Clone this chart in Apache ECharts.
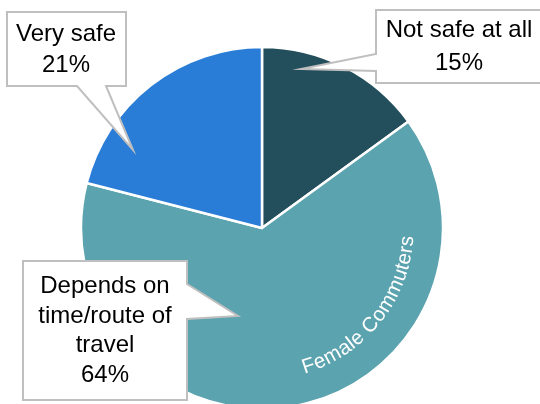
<!DOCTYPE html>
<html><head><meta charset="utf-8">
<script src="https://cdn.jsdelivr.net/npm/echarts@6/dist/echarts.min.js"></script>
<style>html,body{margin:0;padding:0;background:#fff}#c{width:540px;height:404px}</style>
</head><body><div id="c"></div>
<script>
// ---- data ----
const categories = ['Not safe at all', 'Depends on time/route of travel', 'Very safe'];
const labelTexts = ['Not safe at all', 'Depends on\ntime/route of\ntravel', 'Very safe'];
const values = [15, 64, 21];
const seriesName = 'Female Commuters';

// ---- styles / layout ----
const colors = ['#234E5C', '#5BA3AE', '#2A7DD6'];
const CX = 262, CY = 228, R = 181;
const FONT = 'Liberation Sans';
const callouts = [
  { pts: [[376,10],[541,10],[541,83],[376,83],[376,71],[301,69],[376,54]], tx: 459, ty: 47, lh: 33 },
  { pts: [[23,261],[187,261],[187,284],[238,316],[187,319],[187,400],[23,400]], tx: 105, ty: 331, lh: 29.5 },
  { pts: [[7,12],[126,12],[126,86],[106,86],[133,150],[77,86],[7,86]], tx: 66, ty: 50, lh: 31 }
];

const total = values.reduce((a, b) => a + b, 0);
const graphics = [];
callouts.forEach((c, i) => {
  graphics.push({
    type: 'polygon', z: 100,
    shape: { points: c.pts },
    style: { fill: '#fff', stroke: '#BFBFBF', lineWidth: 2 }
  });
  graphics.push({
    type: 'text', z: 101, x: c.tx, y: c.ty,
    style: {
      text: labelTexts[i] + '\n' + Math.round(values[i] / total * 100) + '%',
      fill: '#000', font: '24px "' + FONT + '"',
      align: 'center', verticalAlign: 'middle', lineHeight: c.lh
    }
  });
});

// curved series name inside the large slice
(function () {
  const fs = 20.5, rMid = 146, midDeg = 38.5;
  const ctx = document.createElement('canvas').getContext('2d');
  ctx.font = fs + 'px "' + FONT + '"';
  const chars = seriesName.split('');
  const widths = chars.map(ch => ctx.measureText(ch).width);
  const totalW = widths.reduce((a, b) => a + b, 0);
  const startRad = midDeg * Math.PI / 180 + (totalW / 2) / rMid;
  let cum = 0;
  chars.forEach((ch, k) => {
    const th = startRad - (cum + widths[k] / 2) / rMid;
    cum += widths[k];
    graphics.push({
      type: 'text', z: 50,
      x: CX + rMid * Math.cos(th), y: CY + rMid * Math.sin(th),
      rotation: Math.PI / 2 - th,
      style: { text: ch, fill: '#fff', font: fs + 'px "' + FONT + '"', align: 'center', verticalAlign: 'middle' }
    });
  });
})();

const chart = echarts.init(document.getElementById('c'), null, { renderer: 'canvas' });
chart.setOption({
  animation: false,
  graphic: graphics,
  series: [{
    type: 'pie', name: seriesName,
    center: [CX, CY], radius: R,
    startAngle: 90, clockwise: true,
    label: { show: false }, labelLine: { show: false },
    emphasis: { disabled: true },
    itemStyle: { borderColor: '#fff', borderWidth: 2.5 },
    data: categories.map((n, i) => ({ name: n, value: values[i], itemStyle: { color: colors[i] } }))
  }]
});
</script></body></html>
